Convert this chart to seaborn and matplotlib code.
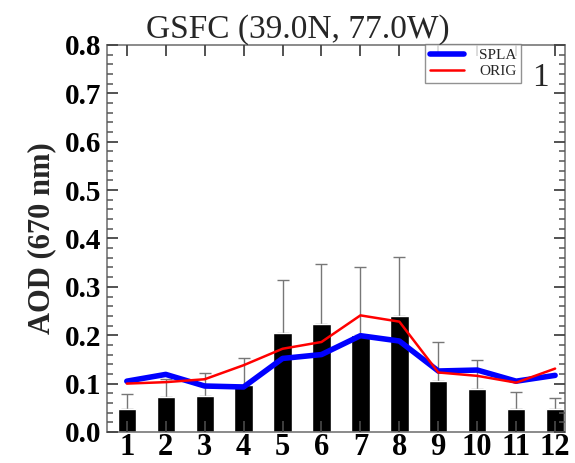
import numpy as np
import pandas as pd
import matplotlib
matplotlib.use("Agg")
import matplotlib.pyplot as plt
import seaborn as sns
from matplotlib.ticker import MultipleLocator, FormatStrFormatter

# Monthly data
months = [1, 2, 3, 4, 5, 6, 7, 8, 9, 10, 11, 12]
obs_aod = [0.048, 0.072, 0.074, 0.097, 0.205, 0.223, 0.200, 0.239, 0.105, 0.088, 0.048, 0.047]
obs_err_top = [0.078, 0.110, 0.121, 0.153, 0.315, 0.347, 0.341, 0.362, 0.186, 0.148, 0.083, 0.070]
spla = [0.105, 0.119, 0.095, 0.093, 0.152, 0.160, 0.199, 0.188, 0.126, 0.128, 0.105, 0.117]
orig = [0.100, 0.103, 0.109, 0.138, 0.172, 0.186, 0.241, 0.228, 0.123, 0.116, 0.102, 0.131]

df = pd.DataFrame({"month": months, "obs": obs_aod, "spla": spla, "orig": orig})

sns.set_style("ticks")
plt.rcParams["font.family"] = ["Liberation Serif", "DejaVu Serif"]
plt.rcParams["axes.axisbelow"] = False

fig = plt.figure(figsize=(5.75, 4.63), dpi=100)
ax = fig.add_axes([0.186, 0.067, 0.797, 0.836])

# error bars (upper only)
err = np.array(obs_err_top) - np.array(obs_aod)
ax.errorbar(months, obs_aod, yerr=[np.zeros(len(err)), err], fmt="none",
            ecolor="#777777", elinewidth=1.0, capsize=4, capthick=1.0, zorder=1)

sns.barplot(data=df, x="month", y="obs", native_scale=True, width=0.47,
            color="black", saturation=1, ax=ax, zorder=2)

sns.lineplot(data=df, x="month", y="spla", color="#0000ff", linewidth=4,
             label="SPLA", ax=ax, zorder=3)
sns.lineplot(data=df, x="month", y="orig", color="#ff0000", linewidth=1.8,
             label="ORIG", ax=ax, zorder=4)

ax.set_xlim(0.49, 12.26)
ax.set_ylim(0, 0.8)
ax.set_xticks(months)
ax.yaxis.set_major_locator(MultipleLocator(0.1))
ax.yaxis.set_major_formatter(FormatStrFormatter("%.1f"))
ax.yaxis.set_minor_locator(MultipleLocator(0.02))
ax.set_axisbelow(False)

ax.tick_params(axis="both", which="major", direction="in", top=True, right=True,
               colors="#444444", labelcolor="black", length=8, width=1.3)
ax.tick_params(axis="x", which="major", labelsize=22, pad=1)
ax.tick_params(axis="y", which="major", labelsize=21, pad=4)
ax.yaxis.set_tick_params(which="minor", direction="in", left=True, right=True,
                         length=4.5, width=1.1, color="#555555")
ax.xaxis.set_tick_params(which="minor", bottom=False, top=False)

for lab in ax.get_xticklabels() + ax.get_yticklabels():
    lab.set_fontweight("bold")
for sp in ax.spines.values():
    sp.set_color("#777777")
    sp.set_linewidth(1.2)

ax.set_xlabel("")
ax.set_ylabel("AOD (670 nm)", fontsize=22, fontweight="bold", labelpad=6)
fig.text(0.518, 0.918, "GSFC (39.0N, 77.0W)", fontsize=24, ha="center", va="baseline")

ax.text(0.963, 0.915, "1", transform=ax.transAxes, fontsize=24, ha="right", va="center")

leg = ax.legend(loc="upper left", bbox_to_anchor=(0.695, 1.003), fontsize=11,
                frameon=True, fancybox=False, edgecolor="#777777",
                handlelength=2.2, borderpad=0.3, labelspacing=0.15, handletextpad=1.0,
                borderaxespad=0.0)
leg.get_frame().set_linewidth(1.0)

fig.savefig("out.png", dpi=100)
